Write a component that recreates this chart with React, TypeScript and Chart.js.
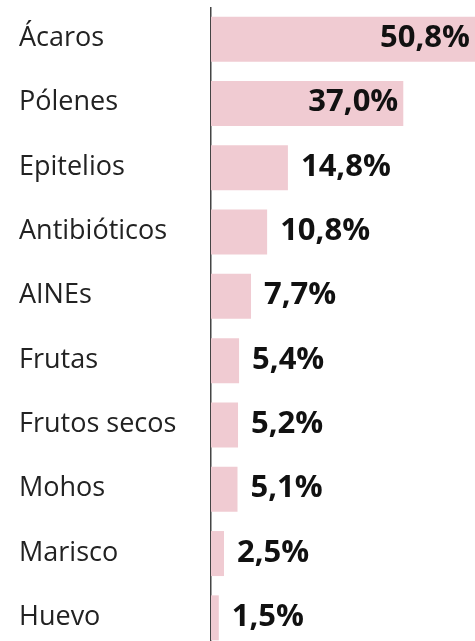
import React, { useEffect, useRef } from "react";
import { Chart, registerables } from "chart.js";

Chart.register(...registerables);

const categories = [
  "Ácaros",
  "Pólenes",
  "Epitelios",
  "Antibióticos",
  "AINEs",
  "Frutas",
  "Frutos secos",
  "Mohos",
  "Marisco",
  "Huevo",
];
const values = [50.8, 37.0, 14.8, 10.8, 7.7, 5.4, 5.2, 5.1, 2.5, 1.5];
const valueLabels = ["50,8%", "37,0%", "14,8%", "10,8%", "7,7%", "5,4%", "5,2%", "5,1%", "2,5%", "1,5%"];
const insideThreshold = 30;

const FONT = '"Open Sans", "Noto Sans", sans-serif';

const labelPlugin = {
  id: "labels",
  afterDatasetsDraw(chart: any) {
    const ctx = chart.ctx;
    const meta = chart.getDatasetMeta(0);
    ctx.save();
    ctx.textBaseline = "alphabetic";
    meta.data.forEach((bar: any, i: number) => {
      // category label
      ctx.font = `27px ${FONT}`;
      ctx.fillStyle = "#222222";
      ctx.textAlign = "left";
      ctx.fillText(categories[i], 11, bar.y + 7);
      // value label
      const inside = values[i] >= insideThreshold;
      ctx.font = `bold 31px ${FONT}`;
      ctx.fillStyle = "#111111";
      ctx.textAlign = inside ? "right" : "left";
      const x = inside ? bar.x - 5 : bar.x + 13;
      ctx.fillText(valueLabels[i], x, bar.y + 8);
    });
    ctx.restore();
  },
};

export default function App() {
  const ref = useRef<HTMLCanvasElement | null>(null);

  useEffect(() => {
    let chart: Chart | null = null;
    let cancelled = false;
    const make = () => {
      if (cancelled || !ref.current) return;
      chart = new Chart(ref.current, {
        type: "bar",
        data: {
          labels: categories,
          datasets: [
            {
              data: values,
              backgroundColor: "#f0cbd2",
              borderWidth: 0,
              barPercentage: 0.7,
              categoryPercentage: 1,
            },
          ],
        },
        options: {
          indexAxis: "y",
          animation: false,
          responsive: false,
          maintainAspectRatio: false,
          layout: { padding: { left: 11, right: 0, top: 0, bottom: 0 } },
          plugins: {
            legend: { display: false },
            tooltip: { enabled: false },
          },
          scales: {
            x: {
              display: false,
              min: 0,
              max: 50.8,
            },
            y: {
              position: "left",
              grid: { display: false, drawTicks: false },
              border: { display: true, color: "#444444", width: 1.5 },
              ticks: { display: false },
              afterFit(scale: any) {
                scale.width = 192;
              },
            },
          },
        },
        plugins: [labelPlugin],
      });
    };
    const fonts: any = (document as any).fonts;
    if (fonts && fonts.load) {
      Promise.all([
        fonts.load(`27px "Open Sans"`),
        fonts.load(`bold 31px "Open Sans"`),
      ])
        .catch(() => null)
        .then(make);
    } else {
      make();
    }
    return () => {
      cancelled = true;
      if (chart) chart.destroy();
    };
  }, []);

  return (
    <div style={{ position: "fixed", left: 8, top: 7, width: 467, height: 643 }}>
      <canvas ref={ref} width={467} height={643} style={{ display: "block" }} />
    </div>
  );
}
